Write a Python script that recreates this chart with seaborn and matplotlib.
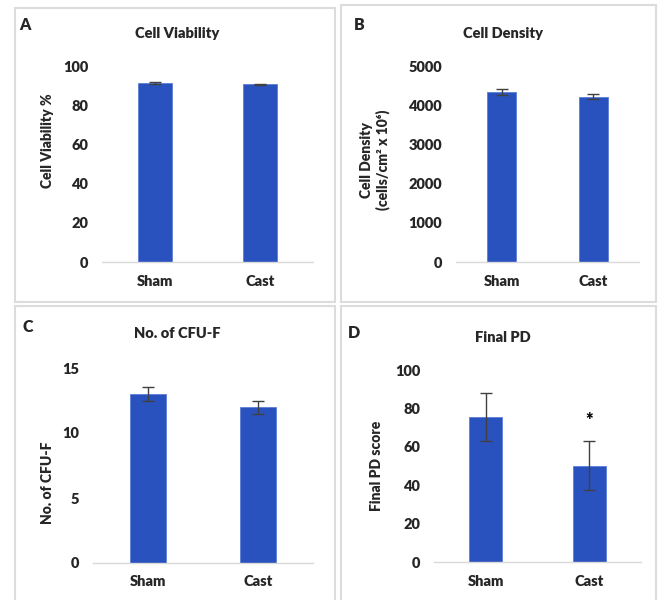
import numpy as np
import pandas as pd
import matplotlib.pyplot as plt
import seaborn as sns
from matplotlib.patches import Rectangle

GROUPS = ["Sham", "Cast"]

VIABILITY = [91.2, 90.6]
VIABILITY_ERR = [0.4, 0.3]
DENSITY = [4330, 4220]
DENSITY_ERR = [75, 60]
CFU = [13.0, 12.0]
CFU_ERR = [0.55, 0.5]
FINAL_PD = [75.3, 50.2]
FINAL_PD_ERR = [12.5, 12.7]

BAR_COLOR = "#2a52be"
ERR_COLOR = "#404040"
BORDER_COLOR = "#dcdcdc"

W, H = 662, 600

# one entry per panel: values, errors, title, ylabel, y range, layout in pixels
panels = [
    dict(letter="A", vals=VIABILITY, errs=VIABILITY_ERR, title="Cell Viability",
         ylabel="Cell Viability %", ymax=100, step=20,
         axes=(102, 262, 211, 196), lab=(-0.256, 0.617), title_xy=(177, 33),
         letter_xy=(25, 25), border=(15, 8, 320, 294), star=None),
    dict(letter="B", vals=DENSITY, errs=DENSITY_ERR, title="Cell Density",
         ylabel="Cell Density\n(cells/cm² x 10⁶)", ymax=5000, step=1000,
         axes=(456, 262, 183, 196), lab=(-0.443, 0.52), title_xy=(503, 33),
         letter_xy=(359, 25), border=(341, 5, 315, 297), star=None),
    dict(letter="C", vals=CFU, errs=CFU_ERR, title="No. of CFU-F",
         ylabel="No. of CFU-F", ymax=15, step=5,
         axes=(93, 563, 220, 195), lab=(-0.209, 0.41), title_xy=(177, 333),
         letter_xy=(28, 327), border=(15, 306, 320, 300), star=None),
    dict(letter="D", vals=FINAL_PD, errs=FINAL_PD_ERR, title="Final PD",
         ylabel="Final PD score", ymax=100, step=20,
         axes=(434, 562, 207, 192), lab=(-0.280, 0.5), title_xy=(503, 337),
         letter_xy=(354, 333), border=(341, 306, 315, 300), star=(1, 73.5)),
]

sns.set_theme(style="white")
plt.rcParams["font.family"] = ["Lato", "DejaVu Sans"]
plt.rcParams["font.weight"] = "bold"

fig = plt.figure(figsize=(W / 100, H / 100), dpi=100)

for p in panels:
    # panel frame
    bx, by, bw, bh = p["border"]
    fig.patches.append(Rectangle((bx / W, 1 - (by + bh) / H), bw / W, bh / H,
                                 transform=fig.transFigure, fill=False,
                                 edgecolor=BORDER_COLOR, lw=1.5, zorder=0))

    left, base, aw, ah = p["axes"]
    ax = fig.add_axes([left / W, 1 - base / H, aw / W, ah / H])
    df = pd.DataFrame({"Group": GROUPS, "Value": p["vals"]})
    sns.barplot(data=df, x="Group", y="Value", color=BAR_COLOR, saturation=1,
                width=0.32, errorbar=None, ax=ax, edgecolor="#5b7fd6", linewidth=0.6)
    ax.errorbar(np.arange(len(GROUPS)), p["vals"], yerr=p["errs"], fmt="none",
                ecolor=ERR_COLOR, elinewidth=1.0, capsize=4, capthick=1.0)

    ax.set_xlim(-0.5, 1.5)
    ax.set_ylim(0, p["ymax"])
    ax.set_yticks(np.arange(0, p["ymax"] + 1, p["step"]))
    ax.set_xlabel("")
    ax.set_ylabel(p["ylabel"], fontsize=10, fontweight="heavy")
    ax.yaxis.label.set_va("center")
    ax.yaxis.set_label_coords(*p["lab"])
    ax.tick_params(axis="y", length=0, pad=10, labelsize=10.5)
    ax.tick_params(axis="x", length=0, pad=9, labelsize=10.5)
    for lbl in ax.get_xticklabels() + ax.get_yticklabels():
        lbl.set_fontweight("heavy")

    sns.despine(ax=ax, left=True)
    ax.spines["bottom"].set_color("#d9d9d9")
    ax.spines["bottom"].set_linewidth(1.0)

    if p["star"] is not None:
        ax.text(p["star"][0], p["star"][1], "*", ha="center", va="center",
                fontsize=13, fontweight="heavy", color="black")

    tx, ty = p["title_xy"]
    fig.text(tx / W, 1 - ty / H, p["title"], ha="center", va="center",
             fontsize=10.5, fontweight="heavy")
    lx, ly = p["letter_xy"]
    fig.text(lx / W, 1 - ly / H, p["letter"], ha="center", va="center",
             fontsize=11.5, fontweight="heavy")

fig.savefig("out.png", dpi=100, facecolor="white")
